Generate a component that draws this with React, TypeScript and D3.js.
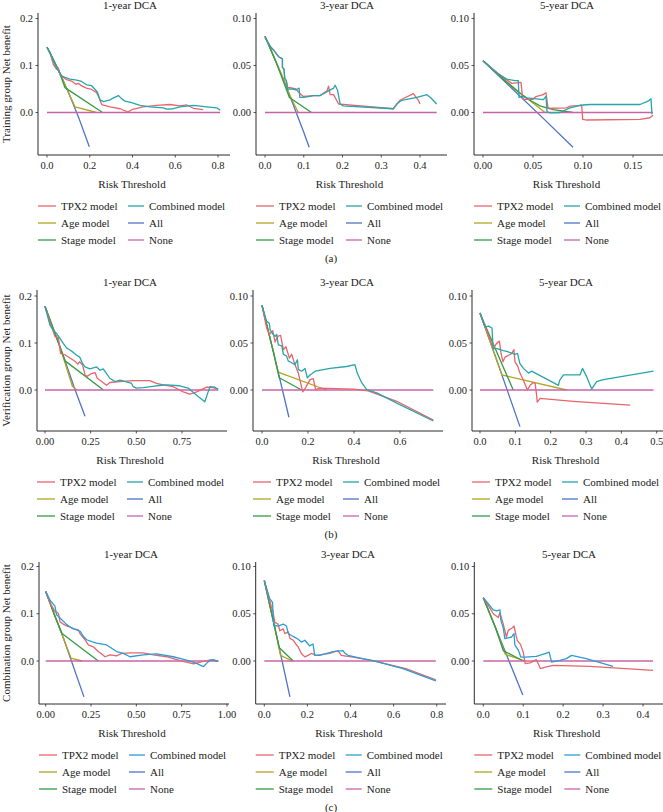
import React from "react";
import * as d3 from "d3";

type P = [number, number];

// ---------- Row (a): Training group ----------
const trainY1_TPX2: P[] = [[0,0.139],[0.015,0.126],[0.03,0.102],[0.045,0.092],[0.053,0.095],[0.061,0.08],[0.069,0.077],[0.092,0.07],[0.115,0.067],[0.135,0.06],[0.147,0.062],[0.16,0.057],[0.185,0.052],[0.209,0.049],[0.232,0.042],[0.24,0.035],[0.256,0.017],[0.295,0.012],[0.342,0.008],[0.38,0.001],[0.396,0.006],[0.45,0.012],[0.513,0.015],[0.575,0.017],[0.622,0.014],[0.654,0.016],[0.685,0.009],[0.731,0.006]];
const trainY1_Comb: P[] = [[0,0.139],[0.015,0.127],[0.03,0.109],[0.045,0.095],[0.061,0.084],[0.069,0.078],[0.084,0.075],[0.108,0.071],[0.139,0.069],[0.162,0.066],[0.185,0.059],[0.209,0.057],[0.225,0.049],[0.236,0.043],[0.248,0.027],[0.264,0.023],[0.295,0.027],[0.311,0.031],[0.334,0.036],[0.35,0.029],[0.365,0.024],[0.396,0.021],[0.435,0.015],[0.482,0.012],[0.544,0.01],[0.56,0.007],[0.591,0.008],[0.622,0.012],[0.685,0.015],[0.747,0.012],[0.794,0.01],[0.81,0.005]];
const trainY1_Age: P[] = [[0,0.139],[0.05,0.094],[0.1,0.043],[0.131,0.012],[0.232,0]];
const trainY1_Stage: P[] = [[0,0.139],[0.03,0.112],[0.06,0.083],[0.084,0.053],[0.26,0]];
const trainY1_All: P[] = [[0,0.139],[0.05,0.094],[0.1,0.043],[0.15,-0.013],[0.198,-0.073]];
const trainY1_None: P[] = [[0,0],[0.81,0]];

const trainY3_TPX2: P[] = [[0,0.08],[0.0146,0.0697],[0.023,0.066],[0.036,0.059],[0.045,0.057],[0.045,0.048],[0.049,0.046],[0.051,0.036],[0.055,0.034],[0.058,0.027],[0.071,0.026],[0.08,0.025],[0.088,0.021],[0.099,0.017],[0.125,0.018],[0.142,0.018],[0.16,0.023],[0.164,0.028],[0.168,0.019],[0.177,0.019],[0.19,0.009],[0.194,0.009],[0.331,0.004],[0.348,0.013],[0.383,0.02],[0.396,0.013],[0.4,0.009]];
const trainY3_Comb: P[] = [[0,0.08],[0.0146,0.0697],[0.023,0.066],[0.036,0.059],[0.045,0.057],[0.045,0.048],[0.049,0.046],[0.051,0.036],[0.055,0.034],[0.058,0.025],[0.071,0.025],[0.08,0.024],[0.088,0.026],[0.09,0.016],[0.099,0.016],[0.112,0.017],[0.125,0.018],[0.142,0.018],[0.151,0.02],[0.164,0.023],[0.177,0.026],[0.181,0.029],[0.187,0.024],[0.194,0.009],[0.202,0.007],[0.331,0.004],[0.34,0.009],[0.353,0.013],[0.366,0.014],[0.392,0.016],[0.418,0.019],[0.427,0.016],[0.443,0.009]];
const trainY3_Age: P[] = [[0,0.081],[0.04,0.043],[0.06,0.022],[0.075,0.009],[0.086,0]];
const trainY3_Stage: P[] = [[0,0.081],[0.03,0.052],[0.063,0.016],[0.12,0]];
const trainY3_All: P[] = [[0,0.081],[0.05,0.033],[0.1,-0.021],[0.114,-0.037]];
const trainY3_None: P[] = [[0,0],[0.443,0]];

const trainY5_TPX2: P[] = [[0,0.055],[0.017,0.04],[0.0287,0.031],[0.038,0.032],[0.0397,0.0144],[0.042,0.014],[0.05,0.014],[0.053,0.017],[0.06,0.019],[0.063,0.021],[0.065,0.005],[0.0687,0.0045],[0.0837,0.005],[0.087,0.0067],[0.0987,0.0075],[0.0997,-0.0073],[0.104,-0.008],[0.157,-0.0073],[0.167,-0.0056],[0.17,-0.003]];
const trainY5_Comb: P[] = [[0,0.055],[0.0137,0.042],[0.0237,0.0355],[0.032,0.034],[0.0353,0.034],[0.036,0.016],[0.0387,0.0174],[0.0437,0.0155],[0.0537,0.0145],[0.0603,0.0137],[0.063,0.017],[0.064,0.001],[0.067,-0.0005],[0.077,0],[0.08,0.0016],[0.087,0.005],[0.097,0.0077],[0.107,0.0085],[0.124,0.0085],[0.157,0.0085],[0.165,0.012],[0.168,0.0145],[0.169,-0.002]];
const trainY5_Age: P[] = [[0,0.055],[0.02,0.036],[0.04,0.018],[0.05,0.01],[0.062,0]];
const trainY5_Stage: P[] = [[0,0.055],[0.02,0.036],[0.035,0.022],[0.047,0.013],[0.057,0.007],[0.07,0.003],[0.09,0]];
const trainY5_All: P[] = [[0,0.055],[0.03,0.0245],[0.06,-0.006],[0.09,-0.037]];
const trainY5_None: P[] = [[0,0],[0.17,0]];

// ---------- Row (b): Verification group ----------
const validY1_TPX2: P[] = [[0,0.178],[0.027,0.145],[0.055,0.113],[0.073,0.112],[0.078,0.099],[0.085,0.078],[0.109,0.075],[0.137,0.068],[0.164,0.061],[0.18,0.055],[0.19,0.06],[0.206,0.053],[0.219,0.032],[0.23,0.029],[0.255,0.035],[0.274,0.037],[0.286,0.025],[0.31,0.018],[0.337,0.01],[0.355,0.016],[0.41,0.018],[0.483,0.02],[0.574,0.02],[0.61,0.014],[0.647,0.011],[0.702,0.007],[0.757,-0.004],[0.793,-0.009],[0.83,-0.004],[0.885,0.006],[0.92,0.005],[0.948,0.002]];
const validY1_Comb: P[] = [[0,0.178],[0.027,0.138],[0.046,0.127],[0.064,0.12],[0.082,0.11],[0.1,0.099],[0.119,0.089],[0.137,0.085],[0.155,0.08],[0.173,0.074],[0.19,0.07],[0.206,0.056],[0.219,0.049],[0.246,0.045],[0.283,0.049],[0.301,0.042],[0.319,0.045],[0.337,0.035],[0.355,0.025],[0.383,0.018],[0.41,0.021],[0.456,0.016],[0.474,0.014],[0.483,0.007],[0.5,0.004],[0.538,0.005],[0.61,0.009],[0.665,0.011],[0.738,0.009],[0.784,0.004],[0.83,-0.011],[0.875,-0.025],[0.893,-0.004],[0.903,0.007],[0.93,0.006],[0.948,0.001]];
const validY1_Age: P[] = [[0,0.178],[0.08,0.094],[0.15,0.008],[0.175,0]];
const validY1_Stage: P[] = [[0,0.178],[0.05,0.125],[0.11,0.062],[0.32,0]];
const validY1_All: P[] = [[0,0.178],[0.1,0.073],[0.165,0],[0.219,-0.056]];
const validY1_None: P[] = [[0,0],[0.948,0]];

const validY3_TPX2: P[] = [[0,0.09],[0.02,0.066],[0.032,0.059],[0.047,0.063],[0.057,0.051],[0.067,0.057],[0.081,0.058],[0.093,0.043],[0.104,0.046],[0.119,0.034],[0.129,0.038],[0.143,0.027],[0.158,0.018],[0.177,-0.002],[0.191,0.003],[0.209,0.011],[0.223,0.012],[0.233,0.0005],[0.252,0.002],[0.397,0.001],[0.462,-0.001],[0.586,-0.012],[0.745,-0.032]];
const validY3_Comb: P[] = [[0,0.09],[0.02,0.073],[0.032,0.071],[0.035,0.064],[0.049,0.059],[0.057,0.057],[0.064,0.059],[0.071,0.048],[0.086,0.047],[0.093,0.038],[0.107,0.036],[0.114,0.031],[0.129,0.029],[0.143,0.027],[0.154,0.032],[0.158,0.022],[0.172,0.02],[0.187,0.023],[0.197,0.013],[0.209,0.016],[0.231,0.02],[0.296,0.023],[0.368,0.025],[0.404,0.027],[0.414,0.018],[0.433,0.008],[0.455,0.0005],[0.499,-0.003],[0.586,-0.014],[0.745,-0.033]];
const validY3_Age: P[] = [[0,0.09],[0.05,0.04],[0.07,0.019],[0.28,0]];
const validY3_Stage: P[] = [[0,0.09],[0.05,0.04],[0.075,0.013],[0.172,0]];
const validY3_All: P[] = [[0,0.09],[0.05,0.04],[0.117,-0.029]];
const validY3_None: P[] = [[0,0],[0.745,0]];

const validY5_TPX2: P[] = [[0,0.082],[0.02,0.062],[0.038,0.044],[0.047,0.0496],[0.055,0.052],[0.059,0.04],[0.065,0.03],[0.071,0.035],[0.081,0.037],[0.09,0.039],[0.096,0.043],[0.099,0.03],[0.106,0.026],[0.113,0.018],[0.121,0.012],[0.134,0],[0.142,0.005],[0.151,0.008],[0.156,0.007],[0.16,-0.005],[0.162,-0.013],[0.17,-0.009],[0.264,-0.012],[0.425,-0.016]];
const validY5_Comb: P[] = [[0,0.082],[0.014,0.067],[0.024,0.068],[0.034,0.066],[0.037,0.044],[0.048,0.044],[0.066,0.042],[0.076,0.041],[0.1,0.038],[0.106,0.039],[0.113,0.028],[0.123,0.023],[0.137,0.018],[0.146,0.02],[0.222,0.005],[0.225,0.01],[0.236,0.016],[0.283,0.016],[0.29,0.023],[0.302,0.014],[0.316,0.001],[0.33,0.009],[0.349,0.011],[0.491,0.02]];
const validY5_Age: P[] = [[0,0.082],[0.03,0.05],[0.062,0.016],[0.245,0]];
const validY5_Stage: P[] = [[0,0.082],[0.01,0.073],[0.094,0]];
const validY5_All: P[] = [[0,0.082],[0.05,0.029],[0.113,-0.039]];
const validY5_None: P[] = [[0,0],[0.491,0]];

// ---------- Row (c): Combination group ----------
const combY1_TPX2: P[] = [[0,0.147],[0.025,0.122],[0.051,0.105],[0.07,0.101],[0.079,0.083],[0.097,0.078],[0.116,0.074],[0.134,0.072],[0.152,0.068],[0.18,0.066],[0.189,0.058],[0.217,0.045],[0.235,0.034],[0.263,0.03],[0.29,0.02],[0.309,0.015],[0.327,0.009],[0.355,0.013],[0.391,0.011],[0.419,0.016],[0.474,0.017],[0.538,0.017],[0.594,0.013],[0.667,0.009],[0.741,0.001],[0.815,-0.006],[0.869,-0.001],[0.906,0.002],[0.952,-0.001]];
const combY1_Comb: P[] = [[0,0.147],[0.025,0.128],[0.051,0.116],[0.06,0.098],[0.079,0.091],[0.116,0.077],[0.143,0.07],[0.171,0.066],[0.189,0.063],[0.208,0.052],[0.226,0.045],[0.254,0.041],[0.281,0.038],[0.336,0.034],[0.364,0.027],[0.391,0.02],[0.428,0.016],[0.465,0.009],[0.538,0.013],[0.612,0.015],[0.704,0.009],[0.777,0.002],[0.832,-0.005],[0.869,-0.012],[0.888,-0.005],[0.906,0.002],[0.924,0.003],[0.952,-0.001]];
const combY1_Age: P[] = [[0,0.147],[0.1,0.046],[0.14,0.006],[0.2,0]];
const combY1_Stage: P[] = [[0,0.147],[0.05,0.095],[0.09,0.058],[0.29,0]];
const combY1_All: P[] = [[0,0.147],[0.1,0.046],[0.211,-0.076]];
const combY1_None: P[] = [[0,0],[0.952,0]];

const combY3_TPX2: P[] = [[0,0.085],[0.025,0.064],[0.033,0.057],[0.04,0.052],[0.049,0.041],[0.064,0.039],[0.072,0.032],[0.088,0.034],[0.095,0.029],[0.111,0.031],[0.119,0.024],[0.134,0.022],[0.146,0.018],[0.157,0.015],[0.172,0.008],[0.188,0.0044],[0.203,0.006],[0.218,0.008],[0.241,0.006],[0.303,0.008],[0.342,0.011],[0.357,0.006],[0.411,0.004],[0.504,0.0005],[0.565,-0.003],[0.657,-0.008],[0.796,-0.02]];
const combY3_Comb: P[] = [[0,0.085],[0.025,0.066],[0.038,0.062],[0.044,0.038],[0.064,0.037],[0.088,0.039],[0.103,0.037],[0.111,0.029],[0.126,0.027],[0.142,0.025],[0.157,0.023],[0.172,0.02],[0.188,0.022],[0.203,0.018],[0.21,0.016],[0.226,0.018],[0.234,0.006],[0.257,0.006],[0.319,0.01],[0.365,0.011],[0.373,0.0085],[0.388,0.006],[0.457,0.0025],[0.504,0.0003],[0.643,-0.008],[0.796,-0.021]];
const combY3_Age: P[] = [[0,0.085],[0.05,0.034],[0.075,0.006],[0.13,0]];
const combY3_Stage: P[] = [[0,0.085],[0.05,0.034],[0.07,0.014],[0.134,0]];
const combY3_All: P[] = [[0,0.085],[0.05,0.034],[0.119,-0.038]];
const combY3_None: P[] = [[0,0],[0.796,0]];

const combY5_TPX2: P[] = [[0,0.067],[0.025,0.05],[0.0375,0.046],[0.0416,0.051],[0.05,0.039],[0.058,0.0254],[0.0625,0.0324],[0.073,0.0352],[0.077,0.037],[0.082,0.0271],[0.085,0.0218],[0.093,0.0176],[0.1,0.0095],[0.105,-0.0028],[0.117,-0.002],[0.133,0.0014],[0.143,-0.008],[0.158,-0.0063],[0.175,-0.0046],[0.267,-0.0056],[0.425,-0.01]];
const combY5_Comb: P[] = [[0,0.067],[0.025,0.054],[0.0334,0.053],[0.0416,0.054],[0.044,0.043],[0.05,0.035],[0.054,0.0236],[0.071,0.0254],[0.077,0.029],[0.079,0.017],[0.088,0.0112],[0.094,0.0042],[0.104,0.0042],[0.133,0.005],[0.158,0.0083],[0.165,0.0094],[0.171,-0.0011],[0.192,0.0007],[0.208,0.0025],[0.221,0.006],[0.258,0.0025],[0.325,-0.0056]];
const combY5_Age: P[] = [[0,0.067],[0.03,0.036],[0.055,0.007],[0.105,0]];
const combY5_Stage: P[] = [[0,0.067],[0.03,0.036],[0.05,0.011],[0.1,0]];
const combY5_All: P[] = [[0,0.067],[0.05,0.015],[0.099,-0.036]];
const combY5_None: P[] = [[0,0],[0.425,0]];

// ---------- labels ----------
const panelTitles = ["1-year DCA", "3-year DCA", "5-year DCA"];
const rowYLabels = ["Training group Net benefit", "Verification group Net benefit", "Combination group Net benefit"];
const rowTags = ["(a)", "(b)", "(c)"];
const legendCol1 = ["TPX2 model", "Age model", "Stage model"];
const legendCol2 = ["Combined model", "All", "None"];
const xTicksA = [[0, 0.2, 0.4, 0.6, 0.8], [0, 0.1, 0.2, 0.3, 0.4], [0, 0.05, 0.1, 0.15]];
const xTicksB = [[0, 0.25, 0.5, 0.75], [0, 0.2, 0.4, 0.6], [0, 0.1, 0.2, 0.3, 0.4, 0.5]];
const xTicksC = [[0, 0.25, 0.5, 0.75, 1.0], [0, 0.2, 0.4, 0.6, 0.8], [0, 0.1, 0.2, 0.3, 0.4]];
const yTicks1 = [0, 0.1, 0.2];
const yTicks35 = [0, 0.05, 0.1];

// ---------- styling / layout ----------
const FONT = "'Liberation Serif', 'Times New Roman', serif";
const COLORS = {
  tpx2: "#E8656B",
  comb: "#27A5AA",
  combC: "#2C9DD2",
  age: "#B2A422",
  stage: "#339B45",
  all: "#4F73C6",
  none: "#C863A9",
};
const legendColors1 = [COLORS.tpx2, COLORS.age, COLORS.stage];
const legendColors2 = [COLORS.comb, COLORS.all, COLORS.none];

type Series = { tpx2: P[]; comb: P[]; age: P[]; stage: P[]; all: P[]; none: P[] };

interface PanelCfg {
  series: Series;
  xL: number; xR: number;
  xRef: [number, number, number, number];
  xTicks: number[]; xFmt: string;
  yTicks: number[]; yFmt: string;
  yMax: number;
  titleX: number;
  col: number;
}

interface RowCfg {
  yTop: number; yBot: number; y0: number; yTopPx: number;
  panels: PanelCfg[];
  combColor: string;
}

const rows: RowCfg[] = [
  {
    yTop: 13, yBot: 155, y0: 112.5, yTopPx: 18.5, combColor: COLORS.comb,
    panels: [
      { series: { tpx2: trainY1_TPX2, comb: trainY1_Comb, age: trainY1_Age, stage: trainY1_Stage, all: trainY1_All, none: trainY1_None }, xL: 38, xR: 230, xRef: [0, 0.8, 47, 218], xTicks: xTicksA[0], xFmt: ".1f", yTicks: yTicks1, yFmt: ".1f", yMax: 0.2, titleX: 130, col: 0 },
      { series: { tpx2: trainY3_TPX2, comb: trainY3_Comb, age: trainY3_Age, stage: trainY3_Stage, all: trainY3_All, none: trainY3_None }, xL: 256, xR: 447, xRef: [0, 0.4, 265, 420], xTicks: xTicksA[1], xFmt: ".1f", yTicks: yTicks35, yFmt: ".2f", yMax: 0.1, titleX: 347, col: 1 },
      { series: { tpx2: trainY5_TPX2, comb: trainY5_Comb, age: trainY5_Age, stage: trainY5_Stage, all: trainY5_All, none: trainY5_None }, xL: 474, xR: 663, xRef: [0, 0.15, 483, 633], xTicks: xTicksA[2], xFmt: ".2f", yTicks: yTicks35, yFmt: ".2f", yMax: 0.1, titleX: 567, col: 2 },
    ],
  },
  {
    yTop: 290, yBot: 431, y0: 390, yTopPx: 296, combColor: COLORS.comb,
    panels: [
      { series: { tpx2: validY1_TPX2, comb: validY1_Comb, age: validY1_Age, stage: validY1_Stage, all: validY1_All, none: validY1_None }, xL: 37, xR: 227, xRef: [0, 0.75, 45, 182], xTicks: xTicksB[0], xFmt: ".2f", yTicks: yTicks1, yFmt: ".1f", yMax: 0.2, titleX: 130, col: 0 },
      { series: { tpx2: validY3_TPX2, comb: validY3_Comb, age: validY3_Age, stage: validY3_Stage, all: validY3_All, none: validY3_None }, xL: 253, xR: 443, xRef: [0, 0.6, 262, 400], xTicks: xTicksB[1], xFmt: ".1f", yTicks: yTicks35, yFmt: ".2f", yMax: 0.1, titleX: 347, col: 1 },
      { series: { tpx2: validY5_TPX2, comb: validY5_Comb, age: validY5_Age, stage: validY5_Stage, all: validY5_All, none: validY5_None }, xL: 472, xR: 663, xRef: [0, 0.5, 480, 656.7], xTicks: xTicksB[2], xFmt: ".1f", yTicks: yTicks35, yFmt: ".2f", yMax: 0.1, titleX: 566, col: 2 },
    ],
  },
  {
    yTop: 562, yBot: 704, y0: 661, yTopPx: 566.5, combColor: COLORS.combC,
    panels: [
      { series: { tpx2: combY1_TPX2, comb: combY1_Comb, age: combY1_Age, stage: combY1_Stage, all: combY1_All, none: combY1_None }, xL: 39, xR: 229, xRef: [0, 1.0, 45.7, 227], xTicks: xTicksC[0], xFmt: ".2f", yTicks: yTicks1, yFmt: ".1f", yMax: 0.2, titleX: 131, col: 0 },
      { series: { tpx2: combY3_TPX2, comb: combY3_Comb, age: combY3_Age, stage: combY3_Stage, all: combY3_All, none: combY3_None }, xL: 255.7, xR: 446, xRef: [0, 0.8, 264.3, 436.7], xTicks: xTicksC[1], xFmt: ".1f", yTicks: yTicks35, yFmt: ".2f", yMax: 0.1, titleX: 348, col: 1 },
      { series: { tpx2: combY5_TPX2, comb: combY5_Comb, age: combY5_Age, stage: combY5_Stage, all: combY5_All, none: combY5_None }, xL: 474.3, xR: 663, xRef: [0, 0.4, 483.3, 643], xTicks: xTicksC[2], xFmt: ".1f", yTicks: yTicks35, yFmt: ".2f", yMax: 0.1, titleX: 569, col: 2 },
    ],
  },
];

const AXIS = "#2b2b2b";

function Panel({ p, row }: { p: PanelCfg; row: RowCfg }) {
  const x = d3.scaleLinear().domain([p.xRef[0], p.xRef[1]]).range([p.xRef[2], p.xRef[3]]);
  const y = d3.scaleLinear().domain([0, p.yMax]).range([row.y0, row.yTopPx]);
  const line = d3.line<P>().x((d) => x(d[0])).y((d) => y(d[1]));
  const fx = d3.format(p.xFmt);
  const fy = d3.format(p.yFmt);
  const s = p.series;
  const order: [P[], string][] = [
    [s.all, COLORS.all],
    [s.age, COLORS.age],
    [s.stage, COLORS.stage],
    [s.none, COLORS.none],
    [s.tpx2, COLORS.tpx2],
    [s.comb, row.combColor],
  ];
  const lx = p.xL;
  return (
    <g>
      <text x={p.titleX} y={row.yTop - 4} textAnchor="middle" fontSize={11} fontFamily={FONT} fill="#222">
        {panelTitles[p.col]}
      </text>
      {order.map(([d, c], i) => (
        <path key={i} d={line(d) || ""} fill="none" stroke={c} strokeWidth={1.3} strokeLinejoin="round" />
      ))}
      <line x1={p.xL} x2={p.xL} y1={row.yTop} y2={row.yBot} stroke={AXIS} strokeWidth={1} />
      <line x1={p.xL} x2={p.xR} y1={row.yBot} y2={row.yBot} stroke={AXIS} strokeWidth={1} />
      {p.yTicks.map((t) => (
        <g key={"y" + t}>
          <line x1={p.xL - 2.5} x2={p.xL} y1={y(t)} y2={y(t)} stroke={AXIS} strokeWidth={0.8} />
          <text x={p.xL - 5} y={y(t) + 3.6} textAnchor="end" fontSize={10.5} fontFamily={FONT} fill="#222">
            {fy(t)}
          </text>
        </g>
      ))}
      {p.xTicks.map((t) => (
        <g key={"x" + t}>
          <line x1={x(t)} x2={x(t)} y1={row.yBot} y2={row.yBot + 2.5} stroke={AXIS} strokeWidth={0.8} />
          <text x={x(t)} y={row.yBot + 14} textAnchor="middle" fontSize={10.5} fontFamily={FONT} fill="#222">
            {fx(t)}
          </text>
        </g>
      ))}
      <text x={(p.xL + p.xR) / 2 - 2} y={row.yBot + 33} textAnchor="middle" fontSize={11} fontFamily={FONT} fill="#222">
        Risk Threshold
      </text>
      {legendCol1.map((name, i) => {
        const ly = row.yBot + 51 + i * 17;
        return (
          <g key={"l1" + i}>
            <line x1={lx} x2={lx + 18} y1={ly} y2={ly} stroke={legendColors1[i]} strokeWidth={1.3} />
            <text x={lx + 23} y={ly + 3.6} fontSize={11} fontFamily={FONT} fill="#222">{name}</text>
          </g>
        );
      })}
      {legendCol2.map((name, i) => {
        const ly = row.yBot + 51 + i * 17;
        const c = i === 0 ? row.combColor : legendColors2[i];
        return (
          <g key={"l2" + i}>
            <line x1={lx + 90} x2={lx + 106} y1={ly} y2={ly} stroke={c} strokeWidth={1.3} />
            <text x={lx + 111} y={ly + 3.6} fontSize={11} fontFamily={FONT} fill="#222">{name}</text>
          </g>
        );
      })}
    </g>
  );
}

export default function App() {
  return (
    <svg width={663} height={812} style={{ position: "absolute", left: 0, top: 0, background: "#fff" }}>
      <rect x={0} y={0} width={663} height={812} fill="#fff" />
      {rows.map((row, ri) => (
        <g key={ri}>
          <text
            transform={`translate(10,${(row.yTop + row.yBot) / 2}) rotate(-90)`}
            textAnchor="middle"
            fontSize={11}
            fontFamily={FONT}
            fill="#222"
          >
            {rowYLabels[ri]}
          </text>
          {row.panels.map((p, pi) => (
            <Panel key={pi} p={p} row={row} />
          ))}
          <text x={331} y={row.yBot + 106.5} textAnchor="middle" fontSize={11} fontFamily={FONT} fill="#222">
            {rowTags[ri]}
          </text>
        </g>
      ))}
    </svg>
  );
}
